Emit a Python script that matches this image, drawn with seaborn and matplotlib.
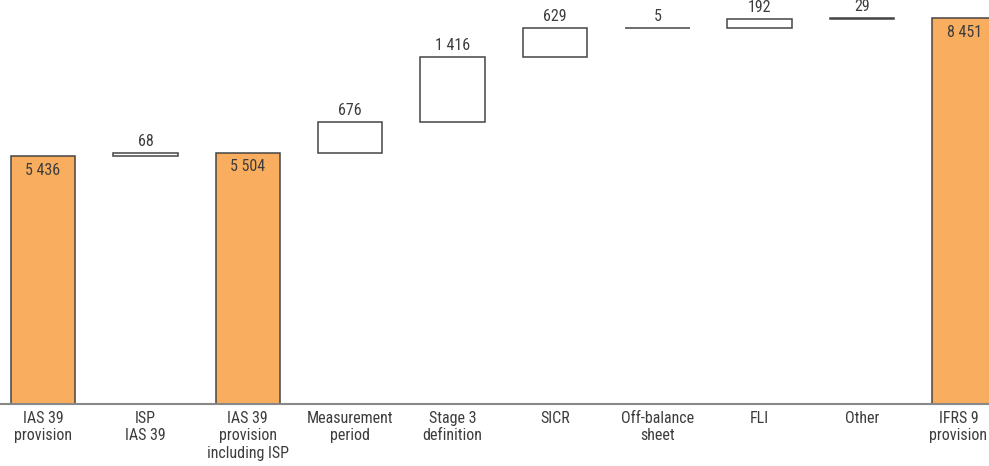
import numpy as np
import pandas as pd
import matplotlib
matplotlib.use("Agg")
import matplotlib.pyplot as plt
import matplotlib.transforms as mtransforms
import seaborn as sns

categories = ["IAS 39\nprovision", "ISP\nIAS 39", "IAS 39\nprovision\nincluding ISP",
              "Measurement\nperiod", "Stage 3\ndefinition", "SICR", "Off-balance\nsheet",
              "FLI", "Other", "IFRS 9\nprovision"]
values = [5436, 68, 5504, 676, 1416, 629, 5, 192, 29, 8451]
is_total = [True, False, True, False, False, False, False, False, False, True]
labels = ["5 436", "68", "5 504", "676", "1 416", "629", "5", "192", "29", "8 451"]

sns.set_theme(style="white")
plt.rcParams['font.family'] = ['Roboto Condensed', 'Roboto', 'DejaVu Sans']
plt.rcParams['font.weight'] = 'normal'

fig = plt.figure(figsize=(9.89, 4.66), dpi=100)
ax = fig.add_axes([0, 62/466, 1, 404/466])

orange = "#F9AD5E"
edge = "#454545"
txt = "#3d3d3d"
W = 0.63
FS = 11.5

df = pd.DataFrame({"cat": categories,
                   "total": [v if t else np.nan for v, t in zip(values, is_total)]})
sns.barplot(data=df, x="cat", y="total", order=categories, color=orange,
            saturation=1, width=W, edgecolor=edge, linewidth=1.1, ax=ax)

# floating bars
running = 0
for i, (v, t) in enumerate(zip(values, is_total)):
    if t:
        running = v
        ax.text(i, v - 150, labels[i], ha="center", va="top", fontsize=FS, color=txt)
    else:
        ax.bar(i, v, bottom=running, width=W, facecolor="white", edgecolor=edge, linewidth=1.1)
        ax.text(i, running + v + 90, labels[i], ha="center", va="bottom", fontsize=FS, color=txt)
        running += v

ax.set_xlim(-0.42, 9.24)
ax.set_ylim(0, 8846)
ax.set_xlabel("")
ax.set_ylabel("")
ax.set_yticks([])
ax.set_xticks(range(len(categories)))
ax.set_xticklabels(categories, fontsize=FS, color=txt, linespacing=1.2)
ax.tick_params(axis="x", length=0, pad=5)
# nudge the last (edge) tick label inward so it fits
last = ax.get_xticklabels()[-1]
last.set_transform(last.get_transform() + mtransforms.ScaledTranslation(-6/100, 0, fig.dpi_scale_trans))
for s in ["top", "left", "right"]:
    ax.spines[s].set_visible(False)
ax.spines["bottom"].set_color("#888888")
ax.spines["bottom"].set_linewidth(1.5)

fig.savefig("out.png", dpi=100)
